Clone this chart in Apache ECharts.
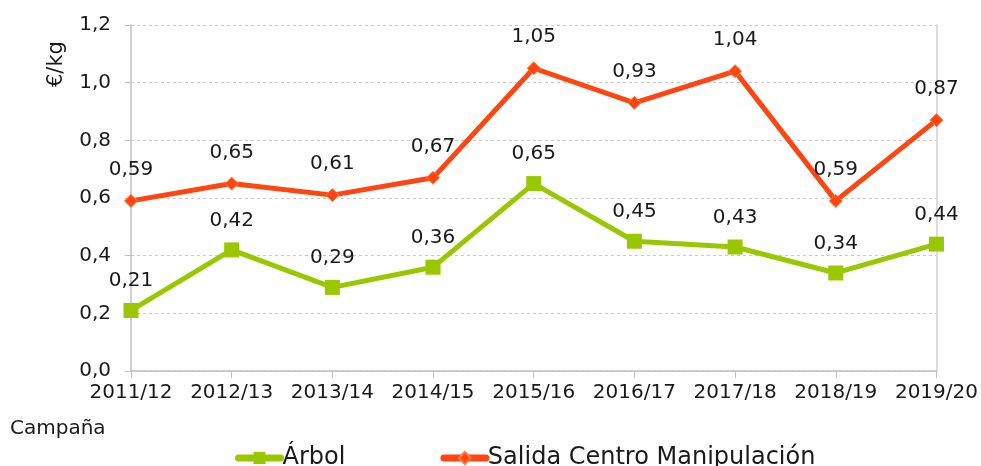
<!DOCTYPE html>
<html>
<head>
<meta charset="utf-8">
<script src="https://cdn.jsdelivr.net/npm/echarts@6/dist/echarts.min.js"></script>
<style>
html,body{margin:0;padding:0;background:#fff;}
#chart{width:981px;height:466px;}
</style>
</head>
<body>
<div id="chart"></div>
<script>
// campañas
var campanas = ['2011/12','2012/13','2013/14','2014/15','2015/16','2016/17','2017/18','2018/19','2019/20'];
// precios €/kg
var arbol = [0.21, 0.42, 0.29, 0.36, 0.65, 0.45, 0.43, 0.34, 0.44];
var salidaCentro = [0.59, 0.65, 0.61, 0.67, 1.05, 0.93, 1.04, 0.59, 0.87];
var serieNames = ['Árbol', 'Salida Centro Manipulación'];

var fuente = 'DejaVu Sans';
var fmtComa = function (v) {
	return v.toFixed(1).replace('.', ',');
};
var etiqueta = function (p) {
	return p.value.toFixed(2).replace('.', ',');
};

var myChart = echarts.init(document.getElementById('chart'));
var option = {
	animation: false,
	textStyle: { fontFamily: fuente },
	grid: { left: 131, right: 44, top: 25, bottom: 95 },
	legend: {
		top: 441,
		left: 230,
		itemWidth: 42,
		itemHeight: 15,
		itemGap: 95,
		lineStyle: { width: 7, cap: 'round' },
		textStyle: { fontSize: 24, color: '#1a1a1a', fontFamily: fuente, padding: [0, 0, 0, -3] },
		data: serieNames
	},
	graphic: [
		{ type: 'text', left: 10, top: 419, style: { text: 'Campaña', font: '20px "' + fuente + '"', fill: '#1a1a1a' } },
		{ type: 'text', x: 46, y: 87, rotation: Math.PI / 2, style: { text: '€/kg', font: '21px "' + fuente + '"', fill: '#1a1a1a' } }
	],
	xAxis: {
		type: 'category',
		boundaryGap: false,
		data: campanas,
		axisLine: { lineStyle: { color: '#bfbfbf', width: 1.5 } },
		axisTick: { show: true, length: 7, lineStyle: { color: '#bfbfbf' } },
		axisLabel: { fontSize: 20, color: '#1a1a1a', margin: 12, interval: 0, hideOverlap: false },
		splitLine: { show: false }
	},
	yAxis: [{
		type: 'value',
		min: 0,
		max: 1.2,
		interval: 0.2,
		axisLine: { show: true, lineStyle: { color: '#bfbfbf', width: 1.5 } },
		axisTick: { show: true, length: 6, lineStyle: { color: '#bfbfbf' } },
		axisLabel: { fontSize: 20, color: '#1a1a1a', margin: 20, formatter: fmtComa },
		splitLine: { show: true, lineStyle: { color: '#c8c8c8', type: [3, 3], width: 1 } }
	}, {
		type: 'value',
		position: 'right',
		min: 0,
		max: 1.2,
		interval: 0.2,
		axisLine: { show: true, lineStyle: { color: '#d0d0d0', width: 1.5 } },
		axisTick: { show: false },
		axisLabel: { show: false },
		splitLine: { show: false }
	}],
	series: [
		{
			name: serieNames[0],
			type: 'line',
			data: arbol,
			symbol: 'rect',
			symbolSize: 15,
			lineStyle: { color: '#99c800', width: 5 },
			itemStyle: { color: '#99c800' },
			label: { show: true, position: 'top', distance: 12, fontSize: 20, color: '#1a1a1a', formatter: etiqueta },
			z: 3
		},
		{
			name: serieNames[1],
			type: 'line',
			data: salidaCentro,
			symbol: 'diamond',
			symbolSize: 13,
			lineStyle: { color: '#ff4512', width: 5 },
			itemStyle: { color: '#ff4512', borderColor: '#ff7a3a', borderWidth: 1 },
			label: { show: true, position: 'top', distance: 14, fontSize: 20, color: '#1a1a1a', formatter: etiqueta },
			z: 4
		}
	]
};
myChart.setOption(option);
window.addEventListener('resize', function () {
	myChart.resize();
});
</script>
</body>
</html>
